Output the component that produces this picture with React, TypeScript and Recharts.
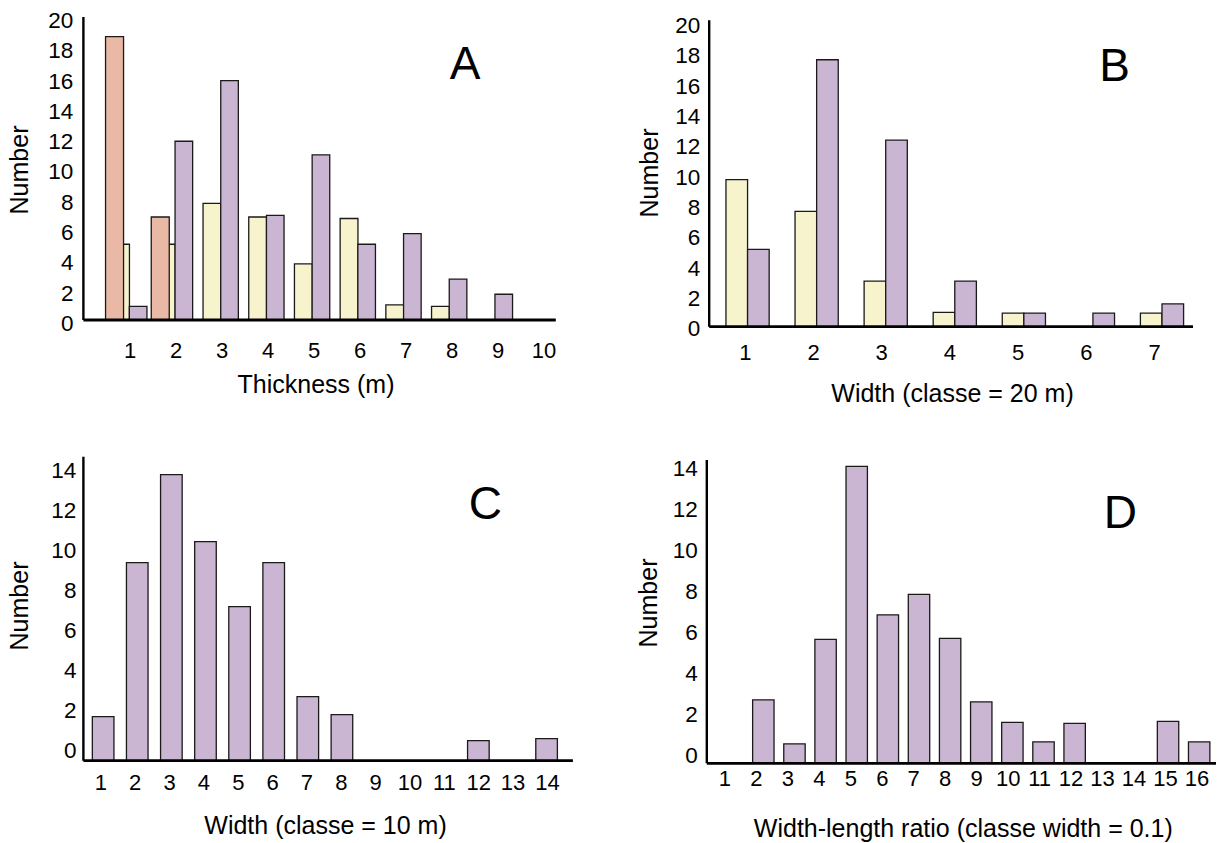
import { BarChart, Bar, XAxis, YAxis } from 'recharts'

const W = 1219
const H = 843
const FONT = '"Liberation Sans", Arial, Helvetica, sans-serif'

const SALMON = '#eab9a6'
const CREAM = '#f7f3cc'
const LILAC = '#cab6d3'

// A — thickness
const thicknessClasses = ['1', '2', '3', '4', '5', '6', '7', '8', '9', '10']
const thicknessRed = [18.7, 6.8, 0, 0, 0, 0, 0, 0, 0, 0]
const thicknessYellow = [5, 5, 7.7, 6.8, 3.7, 6.7, 1, 0.9, 0, 0]
const thicknessPurple = [0.9, 11.8, 15.8, 6.9, 10.9, 5, 5.7, 2.7, 1.7, 0]

// B — width, 20 m classes
const width20Classes = ['1', '2', '3', '4', '5', '6', '7']
const width20Yellow = [9.7, 7.6, 3, 0.95, 0.9, 0, 0.9]
const width20Purple = [5.1, 17.6, 12.3, 3, 0.9, 0.9, 1.5]

// C — width, 10 m classes
const width10Classes = ['1', '2', '3', '4', '5', '6', '7', '8', '9', '10', '11', '12', '13', '14']
const width10Values = [2.2, 9.9, 14.3, 10.95, 7.7, 9.9, 3.2, 2.3, 0, 0, 0, 1, 0, 1.1]

// D — width-length ratio
const ratioClasses = ['1', '2', '3', '4', '5', '6', '7', '8', '9', '10', '11', '12', '13', '14', '15', '16']
const ratioValues = [0, 3.1, 0.95, 6.05, 14.5, 7.25, 8.25, 6.1, 3, 2, 1.05, 1.95, 0, 0, 2.05, 1.05]

const ticks20 = [0, 2, 4, 6, 8, 10, 12, 14, 16, 18, 20]
const ticks14 = [0, 2, 4, 6, 8, 10, 12, 14]

type Series = { key: string; values: number[]; fill: string; shift: number; size: number }
type Pad = { left: number; right: number }
type PanelProps = {
  categories: string[]
  series: Series[]
  plot: { left: number; right: number; top: number; bottom: number }
  yMax: number
  yTicks: number[]
  tickDy: number
  yTickMargin: number
  xTickMargin: number
  labelPad: Pad
  barPad: Pad
}

function Panel({ categories, series, plot, yMax, yTicks, tickDy, yTickMargin, xTickMargin, labelPad, barPad }: PanelProps) {
  const rows = categories.map((c, i) => {
    const r: Record<string, string | number> = { cat: c }
    series.forEach(s => { r[s.key] = s.values[i] })
    return r
  })
  return (
    <div style={{ position: 'absolute', left: 0, top: 0 }}>
      <BarChart
        width={W}
        height={H}
        data={rows}
        margin={{ left: plot.left - 1, right: W - plot.right, top: plot.top, bottom: H - plot.bottom - 1 }}
      >
        <XAxis
          xAxisId="labels"
          dataKey="cat"
          height={1}
          interval={0}
          tickLine={false}
          tickSize={0}
          tickMargin={xTickMargin}
          padding={labelPad}
          axisLine={{ stroke: '#000', strokeWidth: 2.8 }}
          tick={{ fill: '#000', fontSize: 22, fontFamily: FONT }}
        />
        {series.map(s => (
          <XAxis
            key={s.key}
            xAxisId={s.key}
            dataKey="cat"
            hide
            padding={{ left: barPad.left + s.shift, right: barPad.right - s.shift }}
          />
        ))}
        <YAxis
          width={1}
          type="number"
          domain={[0, yMax]}
          ticks={yTicks}
          interval={0}
          tickLine={false}
          tickSize={0}
          tickMargin={yTickMargin}
          axisLine={{ stroke: '#000', strokeWidth: 2.4 }}
          tick={{ fill: '#000', fontSize: 22.5, fontFamily: FONT, dy: tickDy }}
        />
        {series.map(s => (
          <Bar
            key={s.key}
            xAxisId={s.key}
            dataKey={s.key}
            fill={s.fill}
            stroke="#1a1a1a"
            strokeWidth={1.3}
            barSize={s.size}
            isAnimationActive={false}
          />
        ))}
      </BarChart>
    </div>
  )
}

function Txt({ x, y, size, children, rotate }: { x: number; y: number; size: number; children: string; rotate?: boolean }) {
  return (
    <div
      style={{
        position: 'absolute', left: x, top: y, fontSize: size, lineHeight: 1, whiteSpace: 'nowrap',
        color: '#000', fontFamily: FONT,
        transform: `translate(-50%, -50%)${rotate ? ' rotate(-90deg)' : ''}`,
      }}
    >
      {children}
    </div>
  )
}

export default function App() {
  return (
    <div style={{ position: 'absolute', left: 0, top: 0, width: W, height: H, background: '#fff', overflow: 'hidden' }}>
      <Panel
        categories={thicknessClasses}
        series={[
          { key: 'yellow', values: thicknessYellow, fill: CREAM, shift: -8.9, size: 17.8 },
          { key: 'purple', values: thicknessPurple, fill: LILAC, shift: 8.8, size: 17.6 },
          { key: 'red', values: thicknessRed, fill: SALMON, shift: -15, size: 18 },
        ]}
        plot={{ left: 83.4, right: 555.8, top: 17, bottom: 320 }}
        yMax={20}
        yTicks={ticks20}
        tickDy={3}
        yTickMargin={10}
        xTickMargin={22}
        labelPad={{ left: 23.6, right: -11.2 }}
        barPad={{ left: 23.15, right: -7.75 }}
      />
      <Panel
        categories={width20Classes}
        series={[
          { key: 'yellow', values: width20Yellow, fill: CREAM, shift: -10.8, size: 21.6 },
          { key: 'purple', values: width20Purple, fill: LILAC, shift: 10.8, size: 21.6 },
        ]}
        plot={{ left: 709.2, right: 1193, top: 20.3, bottom: 326.7 }}
        yMax={20.2}
        yTicks={ticks20}
        tickDy={1.7}
        yTickMargin={9}
        xTickMargin={18}
        labelPad={{ left: 2, right: 4.4 }}
        barPad={{ left: 3.57, right: -3.27 }}
      />
      <Panel
        categories={width10Classes}
        series={[{ key: 'purple', values: width10Values, fill: LILAC, shift: 0, size: 21.6 }]}
        plot={{ left: 83.4, right: 572.9, top: 456.7, bottom: 760.7 }}
        yMax={15.2}
        yTicks={ticks14}
        tickDy={-10.7}
        yTickMargin={7}
        xTickMargin={14}
        labelPad={{ left: 0.3, right: 8.3 }}
        barPad={{ left: 2.94, right: 9 }}
      />
      <Panel
        categories={ratioClasses}
        series={[{ key: 'purple', values: ratioValues, fill: LILAC, shift: 0, size: 21.4 }]}
        plot={{ left: 706.8, right: 1216, top: 460, bottom: 763.3 }}
        yMax={14.81}
        yTicks={ticks14}
        tickDy={-8.3}
        yTickMargin={9}
        xTickMargin={7}
        labelPad={{ left: 2.4, right: 3.3 }}
        barPad={{ left: 9.7, right: 1.4 }}
      />

      <Txt x={465} y={63} size={46}>A</Txt>
      <Txt x={1114.5} y={65} size={46}>B</Txt>
      <Txt x={485.4} y={502.5} size={46}>C</Txt>
      <Txt x={1120.4} y={511.7} size={46}>D</Txt>

      <Txt x={316} y={384} size={25}>Thickness (m)</Txt>
      <Txt x={952.5} y={393} size={25}>Width (classe = 20 m)</Txt>
      <Txt x={325.5} y={825} size={25}>Width (classe = 10 m)</Txt>
      <Txt x={963.3} y={828} size={25}>Width-length ratio (classe width = 0.1)</Txt>

      <Txt x={19} y={170} size={25} rotate>Number</Txt>
      <Txt x={649} y={173} size={25} rotate>Number</Txt>
      <Txt x={19} y={605.8} size={25} rotate>Number</Txt>
      <Txt x={647.7} y={603.3} size={25} rotate>Number</Txt>
    </div>
  )
}
